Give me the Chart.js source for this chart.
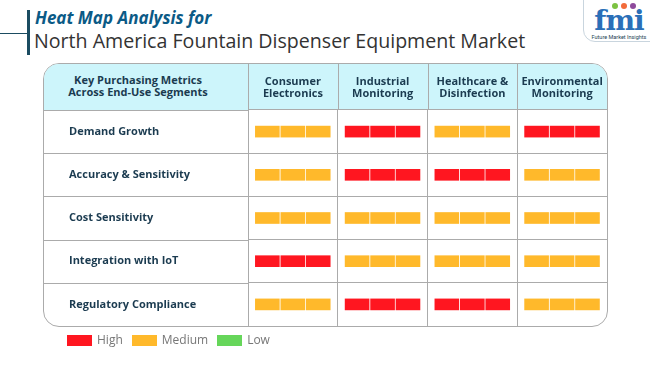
<!DOCTYPE html>
<html>
<head>
<meta charset="utf-8">
<script src="https://cdn.jsdelivr.net/npm/chart.js@4.4.1/dist/chart.umd.min.js"></script>
<style>
  html, body { margin: 0; padding: 0; background: #fff; }
  #wrap { position: relative; width: 650px; height: 365px; overflow: hidden; font-family: "Open Sans", sans-serif; }
  #rule-v { position: absolute; left: 27px; top: 10px; width: 3px; height: 45px; background: #1b4c61; }
  #rule-h { position: absolute; left: 0; top: 33px; width: 28px; height: 1px; background: #1b4c61; }
  #title1 { position: absolute; left: 35px; top: 8px; font-size: 17px; line-height: 20px; font-weight: 700; font-style: italic; color: #0b5a86; white-space: nowrap; }
  #title2 { position: absolute; left: 34px; top: 29px; font-size: 19.6px; line-height: 24px; color: #333; white-space: nowrap; }
  #logo { position: absolute; left: 583px; top: -2px; width: 72px; height: 44px; border: 1px solid #c9d5de; border-bottom-left-radius: 12px; box-sizing: border-box; text-align: center; }
  #logo .dots { position: absolute; left: 28px; top: 4px; display: flex; }
  #logo .dots span { width: 6px; height: 6px; border-radius: 50%; margin-right: 3px; }
  #logo .mark { font-family: "DejaVu Serif", serif; font-weight: 700; font-size: 28px; line-height: 28px; color: #2a6fb8; margin-top: 8px; letter-spacing: -1px; }
  #logo .sub { font-family: Roboto, sans-serif; font-size: 5.5px; color: #1d3f55; margin-top: -1px; }
  #frame { position: absolute; left: 43px; top: 63px; width: 565px; height: 264px; border: 1.5px solid #ababab; border-radius: 16px; box-sizing: border-box; overflow: hidden; }
  #frame .head { height: 46px; background: #cdf5fb; }
  #corner { position: absolute; left: 43px; top: 74px; width: 190px; text-align: center; font-size: 11px; line-height: 12px; font-weight: 700; color: #1b3b50; }
  #chartBox { position: absolute; left: 0; top: 0; width: 650px; height: 365px; }
  #legend { position: absolute; left: 67px; top: 333px; display: flex; font-size: 12px; color: #777; line-height: 14px; }
  #legend .item { display: flex; align-items: center; margin-right: 9px; }
  #legend .sw { width: 25px; height: 11px; margin-right: 5px; }
</style>
</head>
<body>
<div id="wrap">
  <div id="rule-h"></div>
  <div id="rule-v"></div>
  <div id="title1">Heat Map Analysis for</div>
  <div id="title2">North America Fountain Dispenser Equipment Market</div>
  <div id="logo">
    <div class="dots"><span style="background:#7cc242"></span><span style="background:#f26b3a"></span><span style="background:#8e4a9c"></span></div>
    <div class="mark">fmi</div><div class="sub">Future Market Insights</div>
  </div>
  <div id="frame"><div class="head"></div></div>
  <div id="corner">Key Purchasing Metrics<br>Across End-Use Segments</div>
  <div id="chartBox"><canvas id="heatChart"></canvas></div>
  <div id="legend"></div>
</div>
<script>
// data
const metrics = ['Demand Growth', 'Accuracy & Sensitivity', 'Cost Sensitivity', 'Integration with IoT', 'Regulatory Compliance'];
const segments = [['Consumer', 'Electronics'], ['Industrial', 'Monitoring'], ['Healthcare &', 'Disinfection'], ['Environmental', 'Monitoring']];
const consumerElectronics = ['Medium', 'Medium', 'Medium', 'High', 'Medium'];
const industrialMonitoring = ['High', 'High', 'Medium', 'Medium', 'High'];
const healthcareDisinfection = ['Medium', 'High', 'Medium', 'Medium', 'High'];
const environmentalMonitoring = ['High', 'Medium', 'Medium', 'Medium', 'Medium'];
const levelNames = ['High', 'Medium', 'Low'];
const levelColors = ['#ff1620', '#ffb92b', '#66d65a'];

const columns = [consumerElectronics, industrialMonitoring, healthcareDisinfection, environmentalMonitoring];

// each cell is drawn as three blocks (style only)
const blockStarts = [0.082, 0.366, 0.649];
const blockWidth = 0.267;
const navy = '#1b3b50';
const lineColor = '#ababab';

function colorOf(level) {
  return levelColors[levelNames.indexOf(level)];
}

const datasets = [];
columns.forEach((col, c) => {
  blockStarts.forEach(s => {
    datasets.push({
      data: col.map(() => [c + s, c + s + blockWidth]),
      backgroundColor: col.map(colorOf),
      borderWidth: 0,
      borderSkipped: false,
      barThickness: 11,
      grouped: false
    });
  });
});

// legend from the level arrays
const legend = document.getElementById('legend');
levelNames.forEach((name, i) => {
  const item = document.createElement('div');
  item.className = 'item';
  item.innerHTML = '<div class="sw" style="background:' + levelColors[i] + '"></div>' + name;
  legend.appendChild(item);
});

// lengthen the grid lines into the header row and the label column
const tableLines = {
  id: 'tableLines',
  beforeDatasetsDraw(chart, args, opts) {
    const { ctx, chartArea, scales } = chart;
    ctx.save();
    ctx.strokeStyle = lineColor;
    ctx.lineWidth = 1;
    ctx.beginPath();
    for (let v = 0; v < columns.length; v++) {
      const x = Math.round(scales.x.getPixelForValue(v)) + 0.5;
      ctx.moveTo(x, opts.top);
      ctx.lineTo(x, chartArea.top);
    }
    for (let i = 0; i < metrics.length; i++) {
      const half = (scales.y.getPixelForValue(1) - scales.y.getPixelForValue(0)) / 2;
      const y = Math.round(scales.y.getPixelForValue(i) - half) + 0.5;
      ctx.moveTo(opts.left, y);
      ctx.lineTo(chartArea.left, y);
    }
    ctx.stroke();
    ctx.restore();
  }
};

Chart.defaults.font.family = '"Open Sans", sans-serif';

new Chart(document.getElementById('heatChart'), {
  type: 'bar',
  data: { labels: metrics, datasets: datasets },
  options: {
    indexAxis: 'y',
    responsive: true,
    maintainAspectRatio: false,
    animation: false,
    layout: { padding: { left: 69, top: 63, right: 43, bottom: 39 } },
    scales: {
      x: {
        type: 'linear',
        min: 0,
        max: columns.length,
        ticks: { display: false, stepSize: 1 },
        grid: {
          drawTicks: false,
          color: c => (c.tick && c.tick.value === columns.length) ? 'transparent' : lineColor
        },
        border: { display: false },
        afterFit: s => { s.height = 0; }
      },
      xTop: {
        type: 'category',
        position: 'top',
        labels: segments,
        offset: true,
        grid: { display: false, drawTicks: false },
        border: { display: false },
        ticks: { color: navy, padding: 10, font: { size: 11, weight: 'bold', lineHeight: 1.1 }, maxRotation: 0 },
        afterFit: s => { s.height = 47; }
      },
      y: {
        type: 'category',
        grid: {
          drawTicks: false,
          offset: true,
          color: c => c.type === 'tick' ? lineColor : 'transparent'
        },
        border: { display: false },
        ticks: { color: navy, crossAlign: 'far', font: { size: 11, weight: 'bold' } },
        afterFit: s => { s.width = 179; }
      }
    },
    plugins: {
      legend: { display: false },
      tooltip: { enabled: false },
      tableLines: { left: 43, top: 63 }
    }
  },
  plugins: [tableLines]
});
</script>
</body>
</html>
